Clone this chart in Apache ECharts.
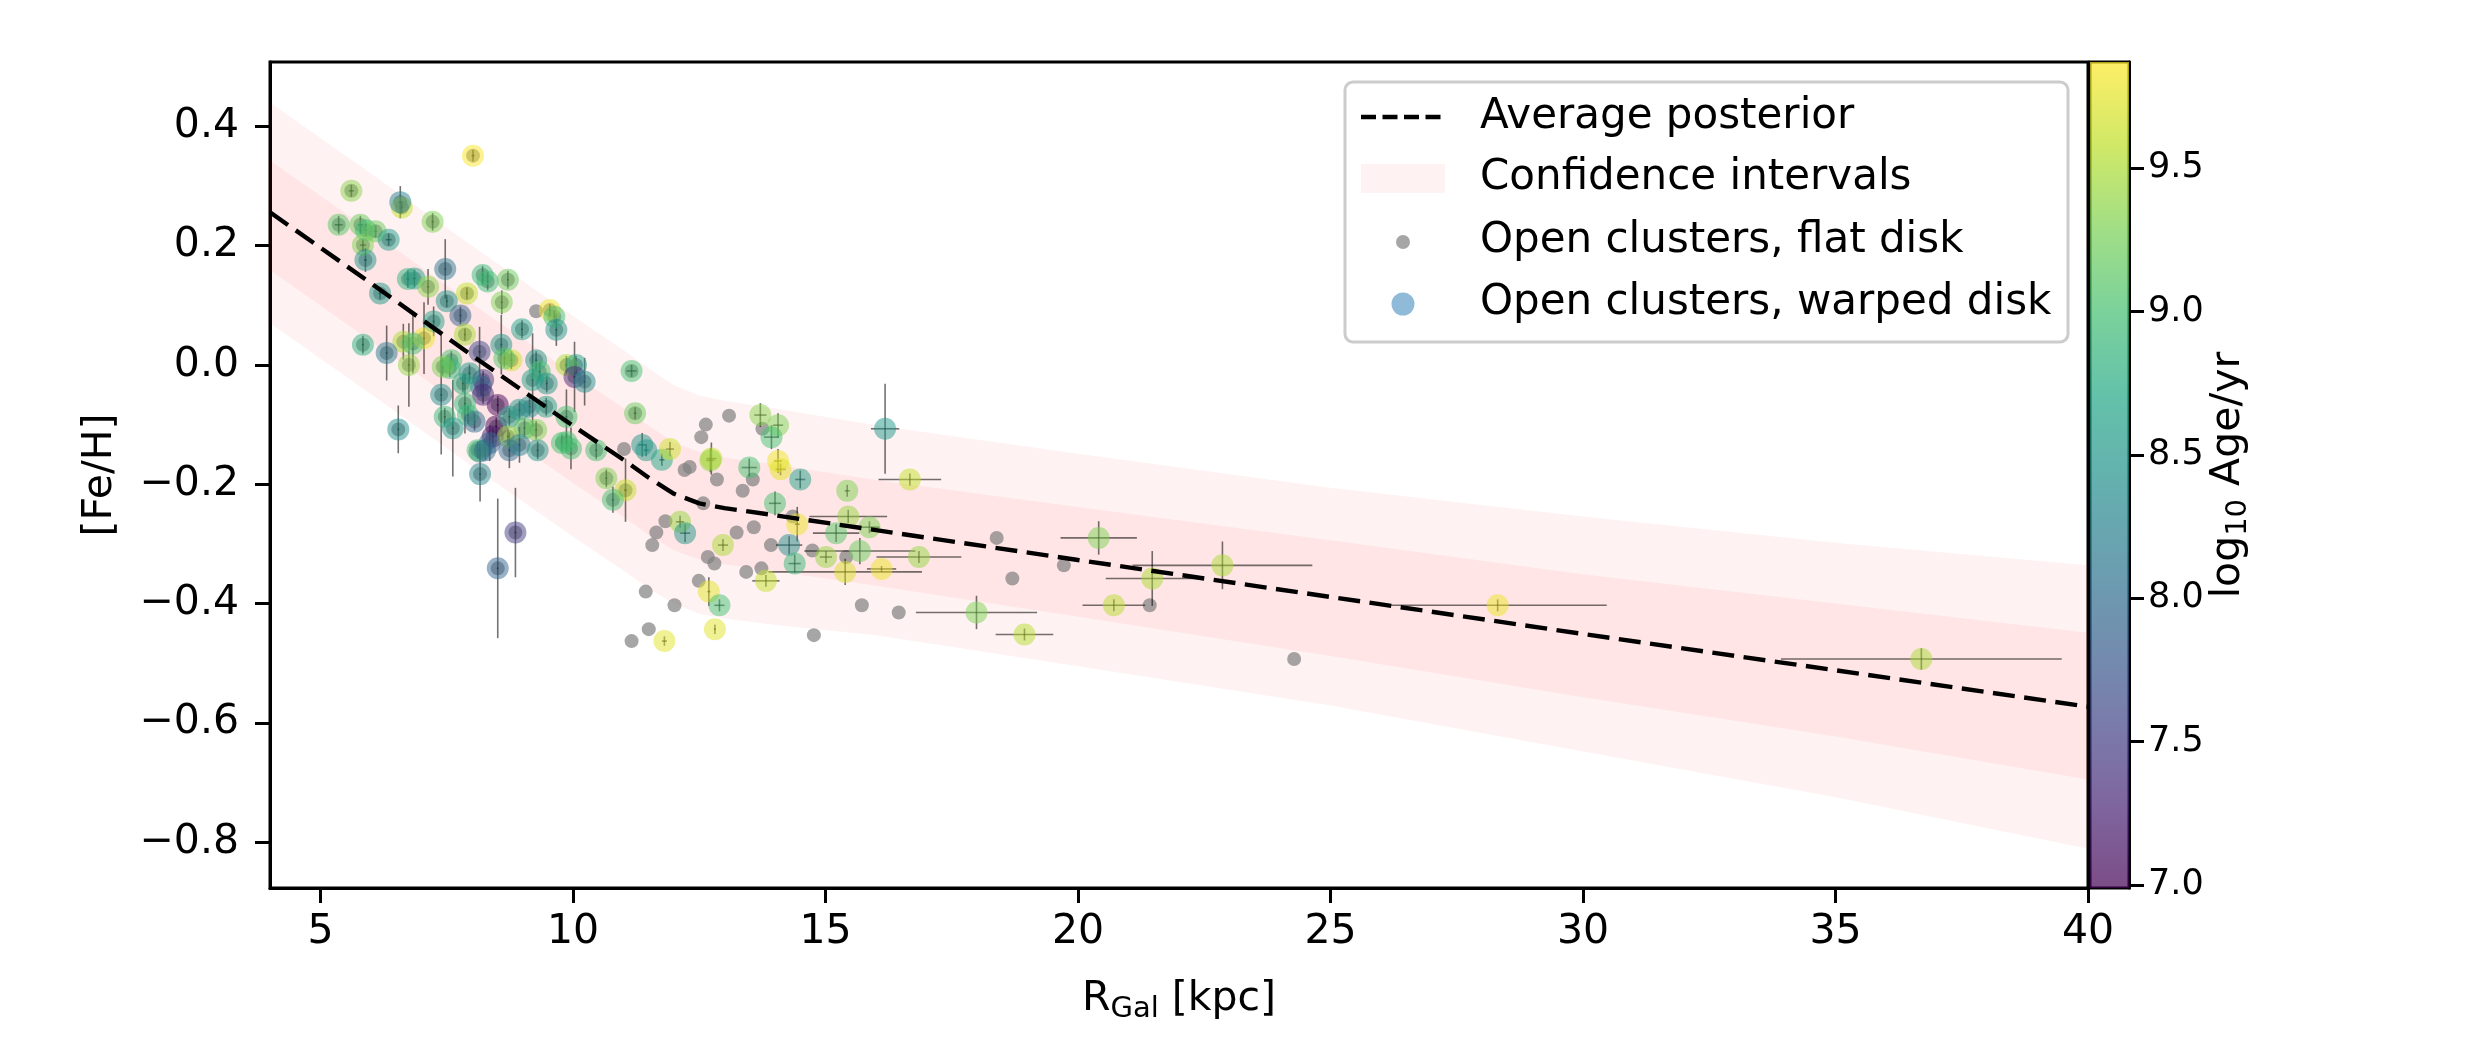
<!DOCTYPE html>
<html><head><meta charset="utf-8">
<script src="https://cdn.jsdelivr.net/npm/echarts@6/dist/echarts.min.js"></script>
<style>html,body{margin:0;padding:0;background:#fff}#c{width:2475px;height:1058px}</style>
</head><body><div id="c"></div>
<script>
// ---------------- DATA ----------------
const xTicks = [5, 10, 15, 20, 25, 30, 35, 40];
const yTicks = [-0.8, -0.6, -0.4, -0.2, 0.0, 0.2, 0.4];
const cbTicks = [7.0, 7.5, 8.0, 8.5, 9.0, 9.5];

// Average posterior (dashed line)
const avgR  = [4, 6, 8, 10, 11, 11.5, 12, 12.5, 13, 14, 16, 20, 25, 30, 35, 40];
const avgFe = [0.256, 0.137, 0.016, -0.102, -0.159, -0.189, -0.216, -0.232, -0.240, -0.252, -0.277, -0.327, -0.389, -0.451, -0.512, -0.573];
// Confidence intervals (edges at avgR)
const innerHi = [0.343, 0.224, 0.103, -0.015, -0.072, -0.102, -0.130, -0.146, -0.155, -0.167, -0.193, -0.238, -0.294, -0.351, -0.400, -0.449];
const innerLo = [0.159, 0.040, -0.080, -0.198, -0.255, -0.285, -0.311, -0.326, -0.334, -0.346, -0.370, -0.422, -0.488, -0.557, -0.623, -0.695];
const outerHi = [0.440, 0.321, 0.200, 0.082, 0.025, -0.006, -0.034, -0.051, -0.060, -0.073, -0.101, -0.149, -0.206, -0.254, -0.298, -0.336];
const outerLo = [0.070, -0.049, -0.170, -0.288, -0.345, -0.375, -0.401, -0.417, -0.425, -0.436, -0.453, -0.505, -0.571, -0.648, -0.725, -0.811];

// Open clusters, warped disk
const wR = [8.02,5.61,6.61,6.58,7.22,5.36,5.79,5.90,6.09,6.35,5.84,5.89,7.47,6.73,6.86,7.13,8.21,8.31,8.71,7.90,6.18,7.50,8.59,7.77,7.24,8.99,7.86,7.05,6.64,6.83,5.84,6.31,6.75,
 9.54,9.63,9.67,8.15,8.58,8.78,8.64,7.59,7.56,7.42,9.27,9.34,9.20,9.48,9.87,10.06,10.03,10.23,8.22,8.18,7.82,7.95,7.39,8.51,8.48,8.41,8.22,7.46,7.62,7.92,8.05,8.74,8.94,9.14,9.27,9.04,9.47,9.87,9.87,9.96,10.46,8.71,8.15,8.35,8.74,8.94,9.30,8.16,8.11,7.86,9.78,10.66,11.04,10.79,11.16,11.23,11.37,11.45,11.76,11.92,6.54,8.86,8.51,8.26,
 12.74,12.72,13.71,14.06,13.93,13.49,14.06,14.11,14.50,16.18,16.67,15.43,14.00,12.12,12.22,14.44,15.45,15.21,15.87,14.28,14.39,15.68,15.01,16.85,15.39,16.11,12.97,13.82,12.69,12.90,12.81,11.81,
 17.99,18.94,20.41,21.47,20.71,22.86,28.31,36.70];
const wFe = [0.351,0.292,0.264,0.273,0.240,0.235,0.235,0.226,0.224,0.210,0.201,0.176,0.161,0.144,0.145,0.131,0.151,0.140,0.143,0.120,0.120,0.107,0.105,0.083,0.073,0.060,0.051,0.045,0.039,0.036,0.034,0.020,0.000,
 0.092,0.081,0.059,0.022,0.034,0.008,0.011,0.008,-0.005,-0.003,0.008,-0.011,-0.025,-0.031,0.000,0.000,-0.020,-0.028,-0.025,-0.036,-0.031,-0.014,-0.050,-0.067,-0.103,-0.120,-0.050,-0.087,-0.106,-0.084,-0.095,-0.087,-0.075,-0.070,-0.109,-0.106,-0.070,-0.087,-0.129,-0.140,-0.143,-0.120,-0.145,-0.131,-0.143,-0.134,-0.143,-0.183,-0.143,-0.065,-0.131,-0.190,-0.210,-0.226,-0.010,-0.081,-0.134,-0.143,-0.159,-0.141,-0.108,-0.281,-0.341,-0.143,
 -0.157,-0.160,-0.084,-0.101,-0.121,-0.172,-0.161,-0.175,-0.192,-0.107,-0.192,-0.211,-0.232,-0.263,-0.282,-0.267,-0.254,-0.282,-0.272,-0.302,-0.333,-0.312,-0.322,-0.322,-0.347,-0.342,-0.302,-0.362,-0.380,-0.403,-0.443,-0.463,
 -0.415,-0.452,-0.290,-0.358,-0.403,-0.336,-0.403,-0.493];
const wAge = [9.85,9.35,9.6,8.25,9.3,9.1,9.2,8.95,9.2,8.55,9.3,8.45,8.1,8.85,8.6,9.35,8.9,8.95,9.2,9.6,8.5,8.5,9.3,7.9,8.6,8.6,9.5,9.8,9.5,9.0,8.8,8.15,9.4,
 9.8,9.0,8.5,7.6,8.5,9.65,9.1,9.0,8.9,9.3,8.5,9.0,8.6,8.5,9.5,8.6,7.3,8.4,7.4,7.9,8.8,8.5,8.4,7.05,7.0,7.2,7.3,8.9,8.5,8.9,8.0,8.6,8.5,8.4,9.3,9.1,8.6,9.0,9.0,9.0,9.0,9.4,8.1,7.9,8.0,8.2,8.5,8.3,9.0,8.9,9.0,9.3,9.6,9.0,9.0,9.2,8.5,8.5,8.7,9.65,8.4,7.5,7.9,8.0,
 9.6,9.4,9.35,9.3,9.0,9.0,9.8,9.75,8.6,8.5,9.6,9.3,9.0,9.4,8.5,9.8,9.4,9.1,9.3,8.4,8.9,9.2,9.4,9.4,9.7,9.8,9.5,9.6,9.75,9.0,9.75,9.75,
 9.3,9.55,9.3,9.5,9.55,9.5,9.8,9.5];
const wErrR = [0.03,0.05,0.02,0.03,0.02,0.08,0.05,0.03,0.03,0.06,0.06,0.03,0.02,0.03,0.03,0.02,0.02,0.02,0.02,0.02,0.03,0.02,0.02,0.02,0.02,0.02,0.02,0.02,0.02,0.02,0.02,0.02,0.02,
 0.02,0.02,0.02,0.02,0.02,0.02,0.02,0.02,0.02,0.02,0.02,0.02,0.02,0.02,0.02,0.02,0.02,0.02,0.02,0.02,0.02,0.02,0.02,0.02,0.02,0.02,0.02,0.02,0.02,0.02,0.02,0.02,0.02,0.02,0.02,0.02,0.02,0.02,0.02,0.02,0.02,0.02,0.02,0.02,0.02,0.02,0.02,0.02,0.02,0.02,0.02,0.02,0.03,0.02,0.10,0.03,0.08,0.05,0.05,0.08,0.02,0.02,0.02,0.02,
 0.10,0.08,0.12,0.10,0.15,0.15,0.08,0.10,0.10,0.28,0.62,0.05,0.12,0.08,0.10,0.05,0.77,0.46,0.20,0.26,0.12,1.10,0.12,0.84,1.52,0.29,0.10,0.27,0.03,0.10,0.02,0.05,
 1.20,0.57,0.756,0.92,0.62,1.78,2.16,2.78];
const wErrFe = [0.01,0.01,0.01,0.027,0.015,0.015,0.015,0.01,0.01,0.01,0.01,0.02,0.05,0.015,0.015,0.03,0.015,0.015,0.015,0.01,0.01,0.01,0.02,0.015,0.025,0.015,0.01,0.06,0.03,0.05,0.015,0.046,0.07,
 0.01,0.01,0.027,0.042,0.05,0.015,0.015,0.015,0.015,0.015,0.015,0.015,0.078,0.015,0.015,0.015,0.059,0.04,0.015,0.015,0.015,0.015,0.10,0.015,0.015,0.015,0.015,0.015,0.081,0.015,0.015,0.015,0.015,0.015,0.015,0.015,0.015,0.046,0.015,0.035,0.015,0.015,0.015,0.03,0.03,0.03,0.015,0.046,0.015,0.05,0.015,0.015,0.053,0.022,0.01,0.01,0.02,0.01,0.01,0.012,0.040,0.075,0.117,0.015,
 0.027,0.02,0.02,0.02,0.02,0.015,0.02,0.01,0.015,0.0755,0.01,0.01,0.02,0.01,0.015,0.029,0.011,0.015,0.01,0.015,0.015,0.022,0.01,0.01,0.022,0.005,0.01,0.01,0.024,0.01,0.008,0.008,
 0.028,0.01,0.028,0.046,0.01,0.04,0.01,0.018];

// Open clusters, flat disk (positions differing from the warped ones)
const fR  = [9.27,13.09,12.63,12.54,13.75,11.01,12.21,12.31,12.85,13.56,13.36,12.58,11.83,11.65,11.57,13.24,13.58,14.35,13.92,14.74,15.41,12.67,12.80,13.43,13.73,12.49,11.44,12.01,11.50,11.16,15.72,16.45,14.77,18.39,18.70,19.72,21.42,24.28];
const fFe = [0.090,-0.085,-0.100,-0.121,-0.107,-0.141,-0.176,-0.171,-0.192,-0.192,-0.211,-0.232,-0.262,-0.281,-0.302,-0.281,-0.272,-0.254,-0.302,-0.311,-0.322,-0.322,-0.333,-0.347,-0.341,-0.362,-0.380,-0.403,-0.443,-0.463,-0.403,-0.415,-0.453,-0.290,-0.358,-0.336,-0.403,-0.493];
// inner clusters: flat-disk and warped-disk radii coincide
const SAME_R_LIMIT = 11.3;

const AGE_MIN = 6.99, AGE_MAX = 9.87;

// ---------------- CHART ----------------
const FONT = '"DejaVu Sans", sans-serif';
const FS = 41;
const FS_LEG = 42;
const FS_CB = 35;
const viridis = ['#440154','#482475','#414487','#355f8d','#2a788e','#21918c','#22a884','#44bf70','#7ad151','#bddf26','#fde725'];
function rgba(hex, a) {
  const n = parseInt(hex.slice(1), 16);
  return 'rgba(' + ((n >> 16) & 255) + ',' + ((n >> 8) & 255) + ',' + (n & 255) + ',' + a + ')';
}
const fmtNum = v => (v < 0 ? '\u2212' : '') + Math.abs(v).toFixed(1);

const warpedData = wR.map((r, i) => [r, wFe[i], wAge[i]]);
const errData = wR.map((r, i) => [r, wFe[i], wErrR[i], wErrFe[i]]);
const flatData = fR.map((r, i) => [r, fFe[i]])
  .concat(wR.map((r, i) => [r, wFe[i]]).filter(p => p[0] < SAME_R_LIMIT));
const avgData = avgR.map((r, i) => [r, avgFe[i]]);

const chart = echarts.init(document.getElementById('c'), null, {renderer: 'canvas', width: 2475, height: 1058});

const axisCommon = {
  axisLine: {show: true, onZero: false, lineStyle: {color: '#000', width: 3}},
  splitLine: {show: false}
};

const option = {
  backgroundColor: '#fff',
  animation: false,
  grid: [
    {left: 270, top: 62, width: 1818, height: 826, show: true, borderColor: '#000', borderWidth: 3, backgroundColor: 'transparent'},
    {left: 2090, top: 62, width: 39, height: 826, show: true, borderColor: '#000', borderWidth: 3, backgroundColor: 'transparent'}
  ],
  xAxis: [
    Object.assign({
      type: 'value', gridIndex: 0, min: 4, max: 40,
      axisTick: {show: true, inside: false, length: 15, lineStyle: {color: '#000', width: 3}, customValues: xTicks},
      axisLabel: {show: true, customValues: xTicks, margin: 24, fontSize: FS, fontFamily: FONT, color: '#000', formatter: v => String(v)}
    }, axisCommon),
    {type: 'value', gridIndex: 1, min: 0, max: 1, show: false}
  ],
  yAxis: [
    Object.assign({
      type: 'value', gridIndex: 0, min: -0.877, max: 0.508,
      axisTick: {show: true, inside: false, length: 15, lineStyle: {color: '#000', width: 3}, customValues: yTicks},
      axisLabel: {show: true, customValues: yTicks, margin: 31, fontSize: FS, fontFamily: FONT, color: '#000', formatter: fmtNum}
    }, axisCommon),
    Object.assign({
      type: 'value', gridIndex: 1, min: AGE_MIN, max: AGE_MAX, position: 'right',
      axisTick: {show: true, inside: false, length: 15, lineStyle: {color: '#000', width: 3}, customValues: cbTicks},
      axisLabel: {show: true, customValues: cbTicks, margin: 19, fontSize: FS_CB, fontFamily: FONT, color: '#000', formatter: v => v.toFixed(1)}
    }, axisCommon)
  ],
  visualMap: [{
    type: 'continuous', show: false, min: AGE_MIN, max: AGE_MAX, dimension: 2, seriesIndex: 3,
    inRange: {color: viridis}
  }],
  series: [
    { // 0 confidence bands
      type: 'custom', name: 'Confidence intervals', xAxisIndex: 0, yAxisIndex: 0, z: 1, silent: true, clip: true,
      data: [[avgR[0], avgFe[0]]], encode: {x: 0, y: 1},
      renderItem: (params, api) => {
        const poly = (hi, lo) => {
          const pts = [];
          for (let i = 0; i < avgR.length; i++) pts.push(api.coord([avgR[i], hi[i]]));
          for (let i = avgR.length - 1; i >= 0; i--) pts.push(api.coord([avgR[i], lo[i]]));
          return pts;
        };
        return {type: 'group', children: [
          {type: 'polygon', shape: {points: poly(outerHi, outerLo)}, style: {fill: 'rgba(255,0,0,0.05)'}},
          {type: 'polygon', shape: {points: poly(innerHi, innerLo)}, style: {fill: 'rgba(255,0,0,0.05)'}}
        ]};
      }
    },
    { // 1 flat disk
      type: 'scatter', name: 'Open clusters, flat disk', xAxisIndex: 0, yAxisIndex: 0, z: 2, silent: true,
      symbol: 'circle', symbolSize: 14, itemStyle: {color: '#808080', opacity: 0.7},
      data: flatData
    },
    { // 2 error bars
      type: 'custom', xAxisIndex: 0, yAxisIndex: 0, z: 3, silent: true, clip: true,
      data: errData, encode: {x: 0, y: 1},
      renderItem: (params, api) => {
        const x = api.value(0), y = api.value(1), ex = api.value(2), ey = api.value(3);
        const a = api.coord([x - ex, y]), b = api.coord([x + ex, y]);
        const c = api.coord([x, y - ey]), d = api.coord([x, y + ey]);
        const st = {stroke: 'rgba(0,0,0,0.55)', lineWidth: 1.6};
        return {type: 'group', children: [
          {type: 'line', shape: {x1: a[0], y1: a[1], x2: b[0], y2: b[1]}, style: st},
          {type: 'line', shape: {x1: c[0], y1: c[1], x2: d[0], y2: d[1]}, style: st}
        ]};
      }
    },
    { // 3 warped disk
      type: 'scatter', name: 'Open clusters, warped disk', xAxisIndex: 0, yAxisIndex: 0, z: 4, silent: true,
      symbol: 'circle', symbolSize: 22, itemStyle: {opacity: 0.5},
      data: warpedData
    },
    { // 4 average posterior
      type: 'line', name: 'Average posterior', xAxisIndex: 0, yAxisIndex: 0, z: 5, silent: true,
      symbol: 'none', showSymbol: false, smooth: false, clip: true,
      lineStyle: {color: '#000', width: 4.4, type: [22, 9.5]},
      data: avgData
    },
    { // 5 colorbar
      type: 'custom', xAxisIndex: 1, yAxisIndex: 1, z: 1, silent: true,
      data: [[0, AGE_MIN]], encode: {x: 0, y: 1},
      renderItem: (params, api) => {
        const a = api.coord([0, AGE_MAX]), b = api.coord([1, AGE_MIN]);
        const stops = viridis.map((c, i) => ({offset: 1 - i / (viridis.length - 1), color: rgba(c, 0.7)})).reverse();
        return {type: 'rect', shape: {x: a[0], y: a[1], width: b[0] - a[0], height: b[1] - a[1]},
          style: {fill: new echarts.graphic.LinearGradient(0, 0, 0, 1, stops)}};
      }
    }
  ],
  graphic: [
    // axis titles
    {type: 'text', x: 1179, y: 999, z: 50, style: {
      text: '{m|R}{s|Gal}{m| [kpc]}', align: 'center', verticalAlign: 'middle',
      rich: {m: {fontSize: FS, fontFamily: FONT, fill: '#000', lineHeight: 50},
             s: {fontSize: 29, fontFamily: FONT, fill: '#000', lineHeight: 28, verticalAlign: 'bottom'}}}},
    {type: 'text', x: 100, y: 475, rotation: Math.PI / 2, z: 50, style: {
      text: '[Fe/H]', align: 'center', verticalAlign: 'middle', fontSize: FS, fontFamily: FONT, fill: '#000'}},
    {type: 'text', x: 2228, y: 475, rotation: Math.PI / 2, z: 50, style: {
      text: '{m|log}{s|10}{m| Age/yr}', align: 'center', verticalAlign: 'middle',
      rich: {m: {fontSize: FS, fontFamily: FONT, fill: '#000', lineHeight: 50},
             s: {fontSize: 29, fontFamily: FONT, fill: '#000', lineHeight: 28, verticalAlign: 'bottom'}}}},
    // legend
    {type: 'rect', z: 60, shape: {x: 1345, y: 82, width: 723, height: 260, r: 8},
      style: {fill: 'rgba(255,255,255,0.8)', stroke: '#cccccc', lineWidth: 3}},
    {type: 'line', z: 61, shape: {x1: 1361, y1: 117, x2: 1445, y2: 117},
      style: {stroke: '#000', lineWidth: 4.4, lineDash: [15, 6.5]}},
    {type: 'rect', z: 61, shape: {x: 1361, y: 164, width: 84, height: 29}, style: {fill: 'rgba(255,0,0,0.05)'}},
    {type: 'circle', z: 61, shape: {cx: 1403, cy: 242, r: 7}, style: {fill: 'rgba(128,128,128,0.7)'}},
    {type: 'circle', z: 61, shape: {cx: 1403, cy: 304, r: 11.5}, style: {fill: 'rgba(31,119,180,0.5)'}},
    {type: 'text', z: 61, x: 1480, y: 117, style: {text: 'Average posterior', fontSize: FS_LEG, fontFamily: FONT, fill: '#000', verticalAlign: 'middle'}},
    {type: 'text', z: 61, x: 1480, y: 178, style: {text: 'Confidence intervals', fontSize: FS_LEG, fontFamily: FONT, fill: '#000', verticalAlign: 'middle'}},
    {type: 'text', z: 61, x: 1480, y: 241, style: {text: 'Open clusters, flat disk', fontSize: FS_LEG, fontFamily: FONT, fill: '#000', verticalAlign: 'middle'}},
    {type: 'text', z: 61, x: 1480, y: 303, style: {text: 'Open clusters, warped disk', fontSize: FS_LEG, fontFamily: FONT, fill: '#000', verticalAlign: 'middle'}}
  ]
};
chart.setOption(option);
</script>
</body></html>
